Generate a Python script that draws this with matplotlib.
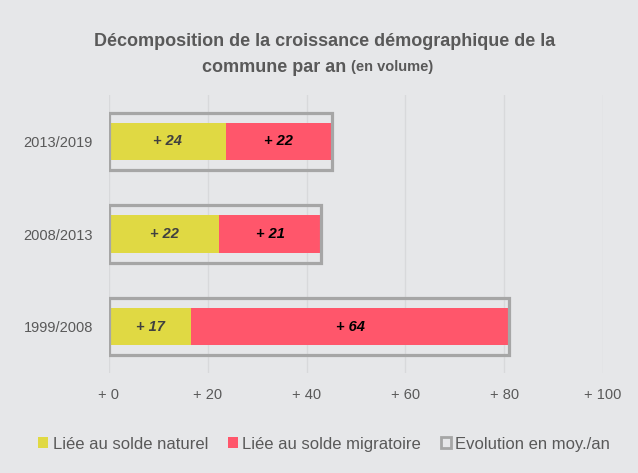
import matplotlib
matplotlib.use("Agg")
import matplotlib.pyplot as plt
from matplotlib.patches import Patch

# ------------------------------------------------------------
# Data
# ------------------------------------------------------------

periods = ["1999/2008", "2008/2013", "2013/2019"]
solde_naturel = [16.7, 22.3, 23.6]
solde_migratoire = [64.2, 20.6, 21.6]
evolution = [80.9, 42.9, 45.2]

x_ticks = [0, 20, 40, 60, 80, 100]
x_labels = ["+ 0", "+ 20", "+ 40", "+ 60", "+ 80", "+ 100"]

# ------------------------------------------------------------
# Style
# ------------------------------------------------------------

BG = "#e6e7e9"
YELLOW = "#e0d943"
RED = "#ff566b"
OUTLINE = "#a6a6a6"
TEXT = "#595959"

plt.rcParams["font.family"] = ["Liberation Sans", "DejaVu Sans"]

fig = plt.figure(figsize=(6.38, 4.73), dpi=100)
fig.patch.set_facecolor(BG)
ax = fig.add_axes([0.1708, 0.2114, 0.7743, 0.5877])
ax.set_facecolor(BG)

y = list(range(len(periods)))

# evolution outline (wide, no fill)
ax.barh(y, evolution, height=0.62, facecolor="none", edgecolor=OUTLINE,
        linewidth=2.3, zorder=3)
# stacked components
ax.barh(y, solde_naturel, height=0.40, color=YELLOW, zorder=2)
ax.barh(y, solde_migratoire, left=solde_naturel, height=0.40, color=RED, zorder=2)

for i in y:
    ax.text(solde_naturel[i] / 2, i, f"+ {round(solde_naturel[i])}",
            ha="center", va="center", fontsize=10.5, fontweight="bold",
            fontstyle="italic", color="#404040", zorder=4)
    ax.text(solde_naturel[i] + solde_migratoire[i] / 2, i,
            f"+ {round(solde_migratoire[i])}",
            ha="center", va="center", fontsize=10.5, fontweight="bold",
            fontstyle="italic", color="black", zorder=4)

ax.set_xlim(0, 100)
ax.set_ylim(-0.5, 2.5)
ax.set_xticks(x_ticks)
ax.set_xticklabels(x_labels, fontsize=10.5, color=TEXT)
ax.set_yticks(y)
ax.set_yticklabels(periods, fontsize=10.5, color=TEXT)
ax.tick_params(axis="x", length=0, pad=11)
ax.tick_params(axis="y", length=0, pad=11.5)
ax.grid(axis="x", color="#d8d9db", linewidth=1, zorder=0)
ax.set_axisbelow(True)
for s in ax.spines.values():
    s.set_visible(False)

# title
fig.text(325 / 638, 1 - 42 / 473, "Décomposition de la croissance démographique de la",
         ha="center", va="center", fontsize=13, fontweight="bold", color=TEXT)
fig.text(346 / 638, 1 - 68 / 473, "commune par an",
         ha="right", va="center", fontsize=13, fontweight="bold", color=TEXT)
fig.text(351 / 638, 1 - 67 / 473, "(en volume)",
         ha="left", va="center", fontsize=10.5, fontweight="bold", color=TEXT)

handles = [
    Patch(facecolor=YELLOW, edgecolor="none", label="Liée au solde naturel"),
    Patch(facecolor=RED, edgecolor="none", label="Liée au solde migratoire"),
    Patch(facecolor="none", edgecolor=OUTLINE, linewidth=2,
          label="Evolution en moy./an"),
]
fig.legend(handles=handles, loc="center", bbox_to_anchor=(0.508, 1 - 444 / 473),
           ncol=3, frameon=False, fontsize=12, handlelength=0.6,
           handleheight=0.6, handletextpad=0.25, columnspacing=1.2,
           labelcolor=TEXT)

fig.savefig("out.png", dpi=100, facecolor=BG)
